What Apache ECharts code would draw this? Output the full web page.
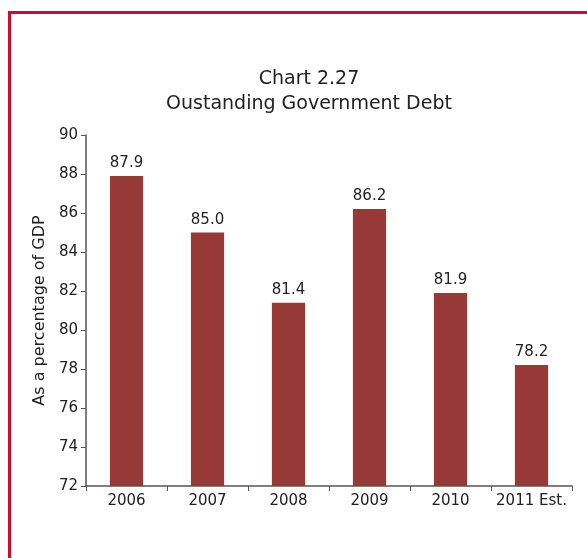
<!DOCTYPE html>
<html>
<head>
<meta charset="utf-8">
<script src="https://cdn.jsdelivr.net/npm/echarts@6/dist/echarts.min.js"></script>
<style>
  html, body { margin: 0; padding: 0; background: #fff; }
  #frame { position: absolute; left: 8px; top: 11px; width: 590px; height: 560px;
           border-top: 3px solid #c8102e; border-left: 3px solid #c8102e; box-sizing: border-box; }
  #chart { position: absolute; left: 0; top: 0; width: 587px; height: 558px; }
</style>
</head>
<body>
<div id="frame"></div>
<div id="chart"></div>
<script>
// Outstanding government debt, percent of GDP
const years = ['2006', '2007', '2008', '2009', '2010', '2011 Est.'];
const debtPct = [87.9, 85.0, 81.4, 86.2, 81.9, 78.2];
const yTicks = { min: 72, max: 90, step: 2 };

const chart = echarts.init(document.getElementById('chart'), null, { renderer: 'canvas' });
const font = 'DejaVu Sans, Verdana, sans-serif';
const axisColor = '#555';

chart.setOption({
  animation: false,
  title: {
    text: 'Chart 2.27\nOustanding Government Debt',
    left: 304,
    top: 62,
    textAlign: 'center',
    textStyle: { fontFamily: font, fontWeight: 'normal', fontSize: 19, color: '#222', lineHeight: 25 }
  },
  grid: { left: 86, right: 15, top: 135, bottom: 72, containLabel: false },
  xAxis: {
    type: 'category',
    data: years,
    axisLine: { lineStyle: { color: axisColor, width: 1.5 } },
    axisTick: { show: true, alignWithLabel: false, interval: 0, length: 5, lineStyle: { color: axisColor } },
    axisLabel: { interval: 0, fontFamily: font, fontSize: 15, color: '#222', margin: 8 }
  },
  yAxis: {
    type: 'value',
    min: yTicks.min,
    max: yTicks.max,
    interval: yTicks.step,
    name: 'As a percentage of GDP',
    nameLocation: 'middle',
    nameGap: 36,
    nameTextStyle: { fontFamily: font, fontSize: 16, color: '#222' },
    axisLine: { show: true, lineStyle: { color: axisColor, width: 1.5 } },
    axisTick: { show: true, length: 5, lineStyle: { color: axisColor } },
    axisLabel: { fontFamily: font, fontSize: 15, color: '#222', margin: 8 },
    splitLine: { show: false }
  },
  series: [{
    type: 'bar',
    data: debtPct,
    barWidth: '41%',
    itemStyle: { color: '#973937' },
    label: {
      show: true,
      position: 'top',
      distance: 5,
      formatter: p => p.value.toFixed(1),
      fontFamily: font,
      fontSize: 15,
      color: '#222'
    }
  }]
});
</script>
</body>
</html>
